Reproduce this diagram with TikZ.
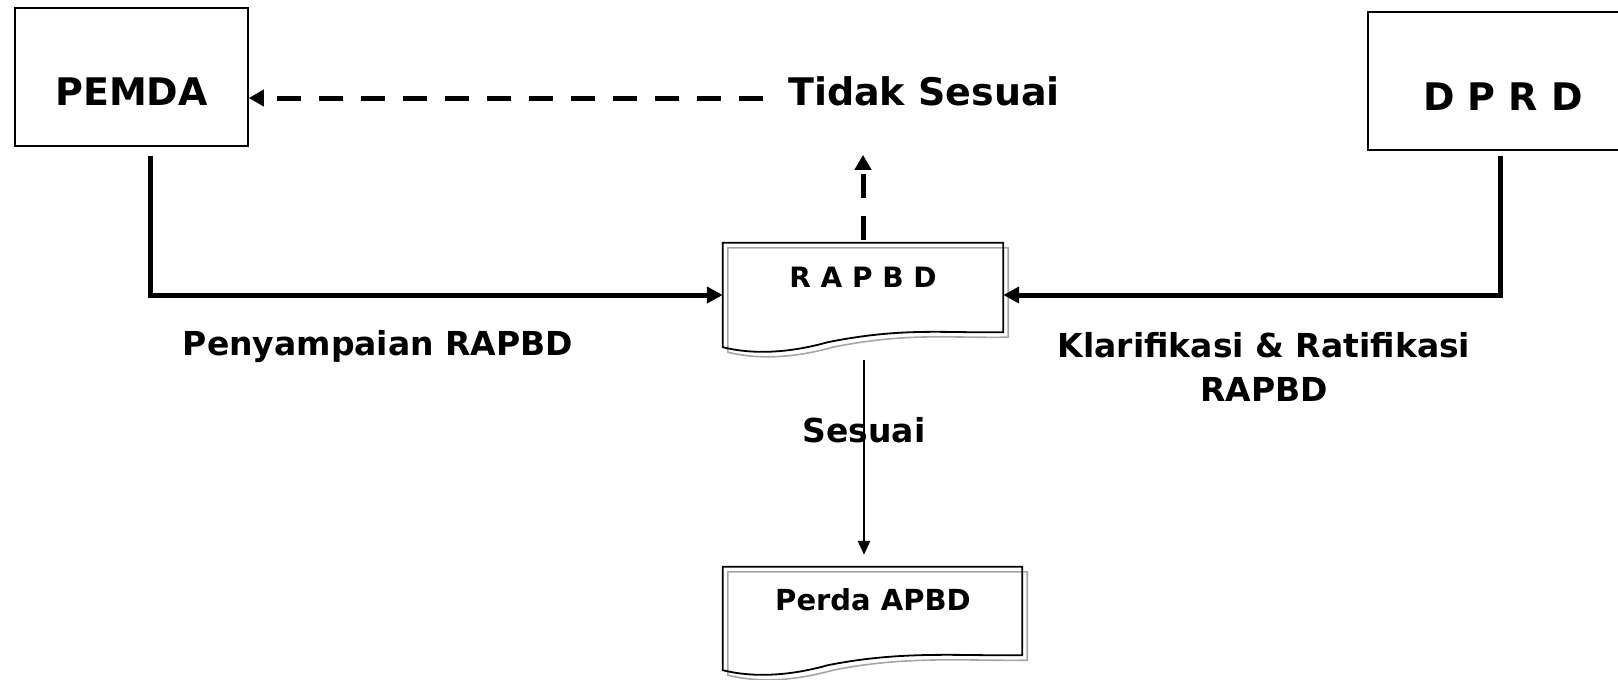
\documentclass[tikz,border=0pt]{standalone}
\usepackage{fontspec}
\setmainfont{DejaVu Sans}
\usetikzlibrary{arrows.meta,calc}
\begin{document}
\begin{tikzpicture}[x=1pt,y=-1pt,
  lbl/.style={font=\bfseries\fontsize{33}{44}\selectfont, inner sep=0pt, align=center},
  big/.style={font=\bfseries\fontsize{38}{44}\selectfont, inner sep=0pt},
  boxnode/.style={draw, line width=1.6pt, inner sep=0pt},
  docnode/.style={inner sep=0pt},
  thick conn/.style={line width=5pt, -{Triangle[length=16pt,width=16pt]}},
  thin conn/.style={line width=2.5pt, -{Triangle[length=14pt,width=12pt]}},
  dash conn/.style={line width=5pt, dash pattern=on 24pt off 18pt, -{Triangle[length=15pt,width=16pt]}},
  docline/.style={line width=1.8pt},
  docshadow/.style={line width=1.6pt, gray!70}
]
\useasboundingbox (0,0) rectangle (1618,680);
\fill[white] (0,0) rectangle (1618,680);

% boxes
\node[boxnode, minimum width=233pt, minimum height=138pt] (PEMDA) at (131.5,77) {};
\node[big] (PEMDAt) at (131.5,92) {PEMDA};
\node[boxnode, minimum width=280pt, minimum height=138pt] (DPRD) at (1508,81) {};
\node[big] (DPRDt) at (1503,97) {D P R D};

% documents
\node[docnode, minimum width=280pt, minimum height=89pt] (RAPBD) at (863,287.5) {};
\node[font=\bfseries\fontsize{28}{32}\selectfont, inner sep=0pt] (RAPBDt) at (863,277) {R A P B D};
\node[docnode, minimum width=299pt, minimum height=88pt] (PERDA) at (872.5,611) {};
\node[font=\bfseries\fontsize{29}{34}\selectfont, inner sep=0pt] (PERDAt) at (873,600) {Perda APBD};

\foreach \n in {RAPBD,PERDA}{
  \draw[docshadow, transform canvas={shift={(5,5)}}] (\n.north west) -- (\n.north east) -- (\n.south east)
     .. controls ($(\n.south east)+(-60,1)$) and ($(\n.south west)+(180,-5)$) .. ($(\n.south west)+(105,10)$)
     .. controls ($(\n.south west)+(55,24)$) and ($(\n.south west)+(20,20)$) .. ($(\n.south west)+(0,15)$) -- cycle;
  \draw[docline] (\n.north west) -- (\n.north east) -- (\n.south east)
     .. controls ($(\n.south east)+(-60,1)$) and ($(\n.south west)+(180,-5)$) .. ($(\n.south west)+(105,10)$)
     .. controls ($(\n.south west)+(55,24)$) and ($(\n.south west)+(20,20)$) .. ($(\n.south west)+(0,15)$) -- cycle;
}

% labels
\node[big] (TS) at (924,91) {Tidak Sesuai};
\node[lbl] (L1) at (378,347) {Penyampaian RAPBD};
\node[lbl] (L2) at (1264,367) {Klarifikasi \& Ratifikasi\\RAPBD};
\node[lbl] (L3) at (864,430) {Sesuai};

% connectors
\draw[thick conn] ($(PEMDA.south)+(19,9)$) |- ($(RAPBD.west)+(0,7.5)$);
\draw[thick conn] ($(DPRD.south)+(-8,5)$) |- ($(RAPBD.east)+(0,7.5)$);
\draw[dash conn] ($(TS.west)+(-25,7)$) -- ($(PEMDA.east)+(0,21)$);
\draw[dash conn] ($(RAPBD.north)+(0,-3)$) -- ($(RAPBD.north)+(0,-88)$);
\draw[thin conn] ($(RAPBD.south)+(1,28)$) -- ($(RAPBD.south |- PERDA.north)+(1,-12)$);
\end{tikzpicture}
\end{document}
